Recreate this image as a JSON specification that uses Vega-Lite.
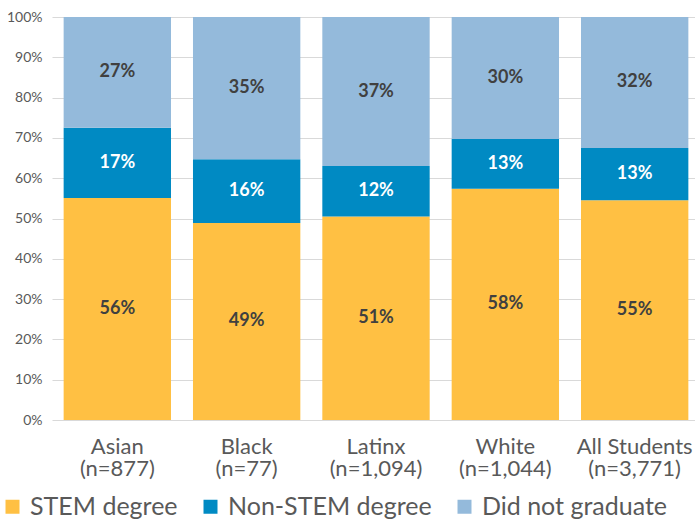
{
  "$schema": "https://vega.github.io/schema/vega-lite/v6.json",
  "width": 648,
  "height": 403,
  "autosize": {"type": "none"},
  "padding": {"left": 52, "top": 17, "right": 0, "bottom": 101},
  "config": {"view": {"stroke": null}, "font": "Lato"},
  "data": {
    "values": [
      {"group": "Asian|(n=877)", "outcome": "STEM degree", "ord": 1, "value": 55.1, "label": "56%"},
      {"group": "Asian|(n=877)", "outcome": "Non-STEM degree", "ord": 2, "value": 17.4, "label": "17%"},
      {"group": "Asian|(n=877)", "outcome": "Did not graduate", "ord": 3, "value": 27.5, "label": "27%"},
      {"group": "Black|(n=77)", "outcome": "STEM degree", "ord": 1, "value": 48.9, "label": "49%"},
      {"group": "Black|(n=77)", "outcome": "Non-STEM degree", "ord": 2, "value": 15.8, "label": "16%"},
      {"group": "Black|(n=77)", "outcome": "Did not graduate", "ord": 3, "value": 35.3, "label": "35%"},
      {"group": "Latinx|(n=1,094)", "outcome": "STEM degree", "ord": 1, "value": 50.5, "label": "51%"},
      {"group": "Latinx|(n=1,094)", "outcome": "Non-STEM degree", "ord": 2, "value": 12.5, "label": "12%"},
      {"group": "Latinx|(n=1,094)", "outcome": "Did not graduate", "ord": 3, "value": 37.0, "label": "37%"},
      {"group": "White|(n=1,044)", "outcome": "STEM degree", "ord": 1, "value": 57.4, "label": "58%"},
      {"group": "White|(n=1,044)", "outcome": "Non-STEM degree", "ord": 2, "value": 12.3, "label": "13%"},
      {"group": "White|(n=1,044)", "outcome": "Did not graduate", "ord": 3, "value": 30.3, "label": "30%"},
      {"group": "All Students|(n=3,771)", "outcome": "STEM degree", "ord": 1, "value": 54.5, "label": "55%"},
      {"group": "All Students|(n=3,771)", "outcome": "Non-STEM degree", "ord": 2, "value": 13.0, "label": "13%"},
      {"group": "All Students|(n=3,771)", "outcome": "Did not graduate", "ord": 3, "value": 32.5, "label": "32%"}
    ]
  },
  "transform": [
    {"stack": "value", "groupby": ["group"], "sort": [{"field": "ord", "order": "ascending"}], "as": ["y0", "y1"]},
    {"calculate": "(datum.y0 + datum.y1) / 2", "as": "ymid"}
  ],
  "encoding": {
    "x": {
      "field": "group",
      "type": "nominal",
      "sort": null,
      "scale": {"paddingInner": 0.17, "paddingOuter": 0.09},
      "axis": {
        "title": null,
        "labelAngle": 0,
        "labelExpr": "split(datum.label, '|')",
        "labelFont": "Lato",
        "labelFontSize": 22,
        "labelLineHeight": 22,
        "labelColor": "#595959",
        "labelPadding": 16,
        "labelLimit": 300,
        "ticks": false,
        "domain": false,
        "labelBaseline": "top"
      }
    }
  },
  "layer": [
    {
      "mark": {"type": "bar"},
      "encoding": {
        "y": {
          "field": "y0",
          "type": "quantitative",
          "scale": {"domain": [0, 100], "nice": false},
          "axis": {
            "title": null,
            "values": [0, 10, 20, 30, 40, 50, 60, 70, 80, 90, 100],
            "labelExpr": "datum.value + '%'",
            "labelFont": "Lato",
            "labelFontSize": 14,
            "labelColor": "#595959",
            "labelPadding": 10,
            "ticks": false,
            "domain": false,
            "grid": true,
            "gridColor": "#d9d9d9",
            "gridWidth": 1
          }
        },
        "y2": {"field": "y1"},
        "color": {
          "field": "outcome",
          "type": "nominal",
          "scale": {
            "domain": ["STEM degree", "Non-STEM degree", "Did not graduate"],
            "range": ["#FFC043", "#008AC3", "#94BADB"]
          },
          "legend": {
            "title": null,
            "orient": "none",
            "direction": "horizontal",
            "legendX": -52,
            "legendY": 477,
            "padding": 0,
            "symbolType": "square",
            "symbolSize": 196,
            "symbolStrokeWidth": 0,
            "labelFont": "Lato",
            "labelFontSize": 25,
            "labelColor": "#595959",
            "labelOffset": 5,
            "labelLimit": 400,
            "columnPadding": 20
          }
        }
      }
    },
    {
      "mark": {"type": "text", "font": "Lato", "fontSize": 18, "fontWeight": "bold", "baseline": "middle"},
      "encoding": {
        "y": {"field": "ymid", "type": "quantitative"},
        "text": {"field": "label"},
        "color": {
          "condition": {"test": "datum.outcome === 'Non-STEM degree'", "value": "#ffffff"},
          "value": "#404040"
        }
      }
    }
  ]
}
